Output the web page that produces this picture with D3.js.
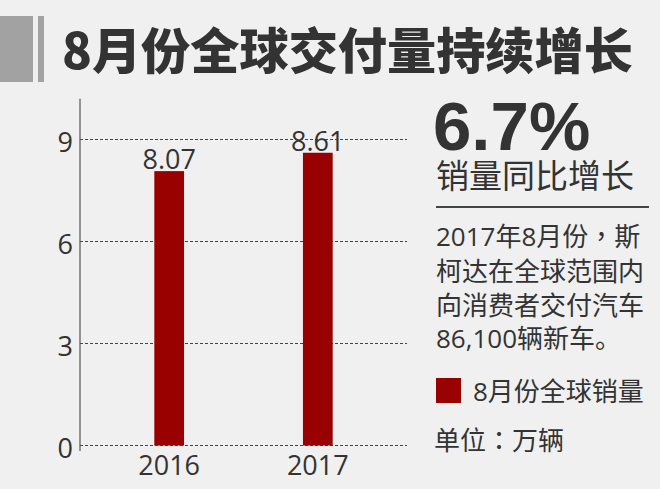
<!DOCTYPE html>
<html>
<head>
<meta charset="utf-8">
<script src="https://cdn.jsdelivr.net/npm/d3@7"></script>
<style>
  html, body { margin: 0; padding: 0; background: #f0f0f0; }
  svg { display: block; }
</style>
</head>
<body>
<svg id="chart" width="660" height="489"></svg>
<script>
// ---- data ----
const categories = ["2016", "2017"];
const values = [8.07, 8.61];
const valueLabels = ["8.07", "8.61"];
const yTicks = [0, 3, 6, 9];
const title = "8月份全球交付量持续增长";
const headline = "6.7%";
const subhead = "销量同比增长";
const paragraph = ["2017年8月份，斯", "柯达在全球范围内", "向消费者交付汽车", "86,100辆新车。"];
const legendLabel = "8月份全球销量";
const unitLabel = "单位：万辆";

// ---- styles ----
const barColor = "#990000";
const textColor = "#333333";
const numFont = "'Open Sans', 'Noto Sans CJK SC', sans-serif";
const cjkFont = "'Noto Sans CJK SC', 'Open Sans', sans-serif";
const punctFont = "'Noto Sans CJK TC', 'Noto Sans CJK SC', sans-serif";

const svg = d3.select("#chart");
svg.append("rect").attr("width", 660).attr("height", 489).attr("fill", "#f0f0f0");

// helper: write text with centred full-width punctuation
function richText(sel, str) {
  const runs = str.match(/[，：]|[^，：]+/g) || [];
  sel.selectAll("tspan").data(runs).join("tspan")
    .attr("font-family", d => /[，：]/.test(d) ? punctFont : null)
    .text(d => d);
}

// ---- title ----
svg.append("rect").attr("x", 0).attr("y", 16).attr("width", 33).attr("height", 66).attr("fill", "#a2a2a2");
svg.append("rect").attr("x", 38).attr("y", 16).attr("width", 6).attr("height", 66).attr("fill", "#a2a2a2");
const titleText = svg.append("text").attr("x", 62).attr("y", 69)
  .attr("font-family", cjkFont).attr("font-weight", 900).attr("font-size", 54)
  .attr("fill", textColor).text(title);
{
  const w = titleText.node().getComputedTextLength();
  if (w > 0) titleText.attr("font-size", Math.min(56, 54 * 571 / w));
}

// ---- chart ----
const x = d3.scaleBand().domain(categories).range([80, 407]).paddingInner(0.8).paddingOuter(0.5);
const y = d3.scaleLinear().domain([0, 9]).range([445.5, 139.5]);

const g = svg.append("g");

g.selectAll("line.grid").data(yTicks).join("line")
  .attr("class", "grid")
  .attr("x1", 80).attr("x2", 407)
  .attr("y1", d => y(d)).attr("y2", d => y(d))
  .attr("stroke", "#444").attr("stroke-width", 1).attr("stroke-dasharray", "3,2");

g.append("line").attr("x1", 80).attr("x2", 80)
  .attr("y1", y(-0.16)).attr("y2", y(10.2))
  .attr("stroke", "#555").attr("stroke-width", 1.2);

g.selectAll("text.ytick").data(yTicks).join("text")
  .attr("class", "ytick")
  .attr("x", 73).attr("y", d => y(d) + 12.5)
  .attr("text-anchor", "end")
  .attr("font-family", numFont).attr("font-size", 27).attr("fill", textColor)
  .text(d => d);

g.selectAll("rect.bar").data(values).join("rect")
  .attr("class", "bar")
  .attr("x", (d, i) => x(categories[i]))
  .attr("width", x.bandwidth())
  .attr("y", d => y(d))
  .attr("height", d => y(0) - y(d))
  .attr("fill", barColor);

g.selectAll("text.val").data(values).join("text")
  .attr("class", "val")
  .attr("x", (d, i) => x(categories[i]) + x.bandwidth() / 2)
  .attr("y", d => y(d) - 2)
  .attr("text-anchor", "middle")
  .attr("font-family", numFont).attr("font-size", 27).attr("fill", textColor)
  .text((d, i) => valueLabels[i]);

g.selectAll("text.xlab").data(categories).join("text")
  .attr("class", "xlab")
  .attr("x", d => x(d) + x.bandwidth() / 2)
  .attr("y", 475)
  .attr("text-anchor", "middle")
  .attr("font-family", numFont).attr("font-size", 27).attr("fill", textColor)
  .text(d => d);

// ---- right panel ----
svg.append("text").attr("x", 433).attr("y", 150)
  .attr("font-family", "'Liberation Sans', Arial, sans-serif").attr("font-weight", 700).attr("font-size", 69)
  .attr("fill", textColor).text(headline);

svg.append("text").attr("x", 436).attr("y", 188)
  .attr("font-family", cjkFont).attr("font-weight", 400).attr("font-size", 33)
  .attr("fill", textColor).text(subhead);

svg.append("line").attr("x1", 436).attr("x2", 649).attr("y1", 207).attr("y2", 207)
  .attr("stroke", "#444").attr("stroke-width", 2);

const paraY = [246, 281, 315, 348];
svg.selectAll("text.para").data(paragraph).join("text")
  .attr("class", "para")
  .attr("x", 436).attr("y", (d, i) => paraY[i])
  .attr("font-family", numFont).attr("font-size", 26)
  .attr("fill", textColor)
  .each(function(d) { richText(d3.select(this), d); });

svg.append("rect").attr("x", 436).attr("y", 378).attr("width", 25).attr("height", 25).attr("fill", barColor);
svg.append("text").attr("x", 473).attr("y", 401)
  .attr("font-family", numFont).attr("font-size", 26)
  .attr("fill", textColor).text(legendLabel);

svg.append("text").attr("x", 434).attr("y", 450)
  .attr("font-family", cjkFont).attr("font-size", 26)
  .attr("fill", textColor)
  .call(s => richText(s, unitLabel));
</script>
</body>
</html>
